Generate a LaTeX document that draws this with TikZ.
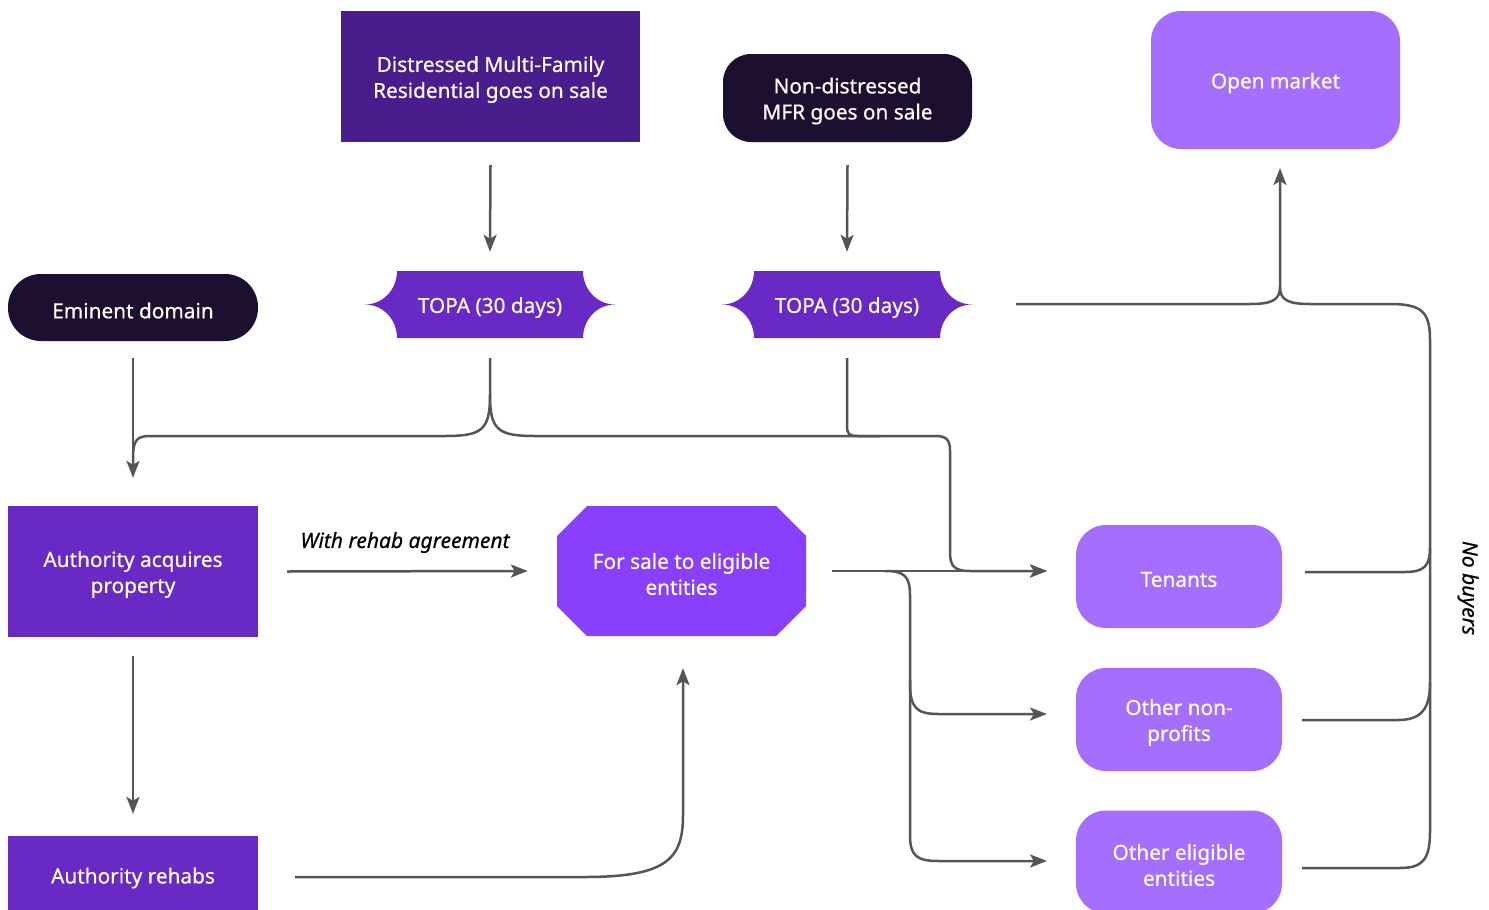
\documentclass[tikz,border=0pt]{standalone}
\usepackage{fontspec}
\setmainfont{Noto Sans}[UprightFeatures={FakeBold=0.5},ItalicFeatures={FakeBold=0.5}]
\usetikzlibrary{arrows.meta,calc}
\definecolor{pdark}{HTML}{1C0F30}
\definecolor{p80}{HTML}{491D8B}
\definecolor{p70}{HTML}{6929C4}
\definecolor{p60}{HTML}{8A3FFC}
\definecolor{p50}{HTML}{A56EFF}
\definecolor{lnc}{HTML}{555555}
\tikzset{
 box/.style={inner sep=0pt, text=white, font=\fontsize{20.8}{26}\selectfont},
 ln/.style={draw=lnc, line width=2.5pt},
 arr/.style={ln, -{Stealth[length=17pt,width=13pt,inset=4pt]}},
 lbl/.style={font=\fontsize{21}{24}\selectfont\itshape, text=black, inner sep=0pt},
}
\newcommand\bx[1]{\raisebox{-3pt}[\height][\depth]{\vbox{\halign{\hfil##\hfil\cr#1\crcr}}}}
\newcommand\topashape[2]{%
\fill[p70] (#1-93,#2-33.5) -- (#1+93,#2-33.5) .. controls (#1+93,#2-15) and (#1+107,#2) .. (#1+125,#2) .. controls (#1+107,#2) and (#1+93,#2+15) .. (#1+93,#2+33.5) -- (#1-93,#2+33.5) .. controls (#1-93,#2+15) and (#1-107,#2) .. (#1-125,#2) .. controls (#1-107,#2) and (#1-93,#2-15) .. (#1-93,#2-33.5) -- cycle;}
\begin{document}
\begin{tikzpicture}[x=1pt,y=-1pt]
\clip (0,0) rectangle (1489,910);
\fill[white] (0,0) rectangle (1489,910);
% nodes
\node[box, fill=p80, minimum width=299pt, minimum height=131pt] (dis) at (490.5,76.5) {\bx{Distressed Multi-Family\cr Residential goes on sale}};
\node[box, fill=pdark, rounded corners=28pt, minimum width=249pt, minimum height=88pt] (non) at (847.5,98) {\bx{Non-distressed\cr MFR goes on sale}};
\node[box, fill=p50, rounded corners=30pt, minimum width=249pt, minimum height=138pt] (open) at (1275.5,80) {\bx{Open market}};
\node[box, fill=pdark, rounded corners=33pt, minimum width=250pt, minimum height=67pt] (em) at (133,307.5) {\bx{Eminent domain}};
\topashape{490}{304.5}
\node[box, minimum width=186pt, minimum height=67pt] (t1) at (490,304.5) {\bx{TOPA (30 days)}};
\topashape{847}{304.5}
\node[box, minimum width=186pt, minimum height=67pt] (t2) at (847,304.5) {\bx{TOPA (30 days)}};
\node[box, fill=p70, minimum width=250pt, minimum height=131pt] (acq) at (133,571.5) {\bx{Authority acquires\cr property}};
\node[box, fill=p70, minimum width=250pt, minimum height=78pt] (reh) at (133,875) {\bx{Authority rehabs}};
\fill[p60] (587,506) -- (776,506) -- (806,536) -- (806,606) -- (776,636) -- (587,636) -- (557,606) -- (557,536) -- cycle;
\node[box, minimum width=249pt, minimum height=130pt] (sale) at (681.5,571) {\bx{For sale to eligible\cr entities}};
\node[box, fill=p50, rounded corners=30pt, minimum width=206pt, minimum height=103pt] (ten) at (1179,576.5) {\bx{Tenants}};
\node[box, fill=p50, rounded corners=30pt, minimum width=206pt, minimum height=103pt] (onp) at (1179,719.5) {\bx{Other non-\cr profits}};
\node[box, fill=p50, rounded corners=30pt, minimum width=206pt, minimum height=103pt] (oee) at (1179,862) {\bx{Other eligible\cr entities}};
\node[lbl] (wra) at (405,542.5) {With rehab agreement};
\node[lbl, rotate=-90] (nb) at (1468,588) {No buyers};
% coordinates
\coordinate (tenin) at (1047,571);
\coordinate (onpin) at (1047,714);
\coordinate (oeein) at (1047,861);
\coordinate (j1) at ($(t1.south)+(0,57)$);
\coordinate (t2out) at (1016,304);
\coordinate (openin) at (1280,168);
\coordinate (tenout) at (1305,572);
\coordinate (onpout) at (1302,720);
\coordinate (oeeout) at (1302,868);
% connectors
\draw[arr] ($(dis.south)+(0,23)$) -- ($(t1.north)+(0,-19)$);
\draw[arr] ($(non.south)+(0,23)$) -- ($(t2.north)+(0,-19)$);
\draw[arr] ($(em.south)+(0,17)$) -- ($(acq.north)+(0,-28)$);
\draw[ln] ($(t1.south)+(0,20)$) -- (j1) .. controls (490,430) and (482,436) .. (445,436) -- (150,436) .. controls (137,436) and (133,440) .. (133,458) -- (133,470);
\draw[arr] (j1) .. controls (490,430) and (498,436) .. (535,436) -- (936,436) .. controls (946,436) and (950,440) .. (950,450) -- (950,552) .. controls (950,566) and (954,571) .. (970,571) -- (tenin);
\draw[ln] ($(t2.south)+(0,20)$) -- (847,426) .. controls (847,434) and (849,436) .. (858,436) -- (880,436);
\draw[arr] ($(sale.east)+(26,0)$) -- (tenin);
\draw[arr] (885,571) .. controls (904,571) and (910,576) .. (910,595) -- (910,683) .. controls (910,707) and (916,714) .. (938,714) -- (onpin);
\draw[arr] (910,680) -- (910,835) .. controls (910,855) and (916,861) .. (938,861) -- (oeein);
\draw[arr] (t2out) -- (1250,304) .. controls (1272,304) and (1280,300) .. (1280,287) -- (openin);
\draw[ln] (1280,287) .. controls (1280,300) and (1288,304) .. (1310,304) -- (1390,304) .. controls (1422,304) and (1430,312) .. (1430,340) -- (1430,832) .. controls (1430,860) and (1422,868) .. (1400,868) -- (oeeout);
\draw[ln] (tenout) -- (1405,572) .. controls (1424,572) and (1430,566) .. (1430,548);
\draw[ln] (onpout) -- (1398,720) .. controls (1422,720) and (1430,708) .. (1430,683);
\draw[arr] ($(acq.east)+(29,0)$) -- ($(sale.west)+(-29,0)$);
\draw[arr] ($(acq.south)+(0,19)$) -- ($(reh.north)+(0,-22)$);
\draw[arr] ($(reh.east)+(37,2)$) -- (585,877) .. controls (668,877) and (683,858) .. (683,815) -- ($(sale.south)+(1.5,32)$);
\end{tikzpicture}
\end{document}
